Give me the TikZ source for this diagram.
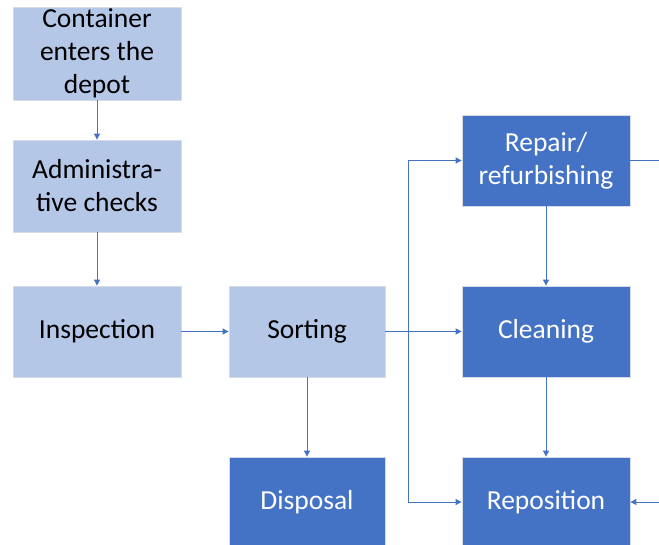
\documentclass[tikz,border=0pt]{standalone}
\usepackage{fontspec}
\setmainfont{Carlito}
\usetikzlibrary{arrows.meta}
\definecolor{lightbox}{HTML}{B4C7E7}
\definecolor{darkbox}{HTML}{4472C4}
\definecolor{boxline}{HTML}{D6DCE5}
\begin{document}
\begin{tikzpicture}[x=1pt,y=-1pt,
  lbox/.style={draw=boxline,line width=0.8pt,fill=lightbox,align=center,text=black,
    font=\fontsize{27.5}{33}\selectfont,inner sep=0pt},
  dbox/.style={draw=boxline,line width=0.8pt,fill=darkbox,align=center,text=white,
    font=\fontsize{27.5}{33}\selectfont,inner sep=0pt},
  conn/.style={draw=darkbox,line width=0.9pt,-{Triangle[width=6pt,length=6pt]}}]
\useasboundingbox (0,0) rectangle (659,545);
\clip (0,0) rectangle (659,545);
\fill[white] (0,0) rectangle (659,545);
% light boxes
\node[lbox,minimum width=168pt,minimum height=93pt] (enter) at (97,53.5) {Container\\enters the\\depot};
\node[lbox,minimum width=168pt,minimum height=92pt] (admin) at (97,186) {Administra-\\tive checks};
\node[lbox,minimum width=168pt,minimum height=91pt] (insp) at (97,331.5) {Inspection};
\node[lbox,minimum width=156pt,minimum height=91pt] (sort) at (307,331.5) {Sorting};
% dark boxes
\node[dbox,minimum width=156pt,minimum height=90pt] (disp) at (307,502) {Disposal};
\node[dbox,minimum width=168pt,minimum height=91pt] (repair) at (546,160.5) {Repair/\\refurbishing};
\node[dbox,minimum width=168pt,minimum height=91pt] (clean) at (546,331.5) {Cleaning};
\node[dbox,minimum width=168pt,minimum height=90pt] (repos) at (546,502) {Reposition};
% branch point
\coordinate (br) at (408,331.5);
% connectors
\draw[conn] (enter) -- (admin);
\draw[conn] (admin) -- (insp);
\draw[conn] (insp) -- (sort);
\draw[conn] (sort) -- (clean);
\draw[conn] (br) |- (repair.west);
\draw[conn] (br) |- (repos.west);
\draw[conn] (sort) -- (disp);
\draw[conn] (repair) -- (clean);
\draw[conn] (clean) -- (repos);
\draw[conn] (repair.east) -- ++(60,0) |- (repos.east);
\end{tikzpicture}
\end{document}
